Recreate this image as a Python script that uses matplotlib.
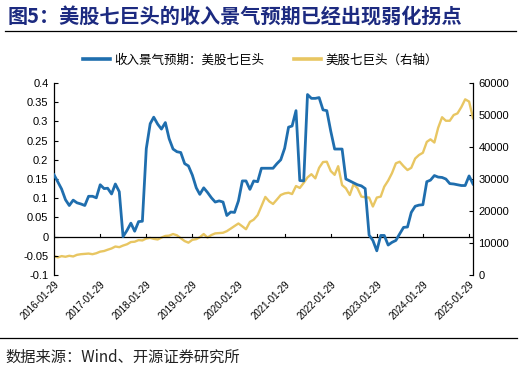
import matplotlib
matplotlib.use("Agg")
import matplotlib.pyplot as plt
import numpy as np
import pandas as pd

plt.rcParams['font.family'] = ['Liberation Sans', 'Noto Sans CJK SC', 'DejaVu Sans']

#------#
# Data #
#------#

# monthly, 2016-01 .. 2025-02
dates = pd.date_range('2016-01-01', periods=110, freq='MS') + pd.Timedelta(days=28)

# 收入景气预期：美股七巨头 (left axis)
revenue_exp = [
    0.161, 0.142, 0.124, 0.096, 0.081, 0.095, 0.088, 0.085, 0.081, 0.105,
    0.105, 0.101, 0.135, 0.125, 0.126, 0.111, 0.137, 0.117, 0.000, 0.016,
    0.035, 0.014, 0.039, 0.040, 0.229, 0.294, 0.311, 0.293, 0.280, 0.297,
    0.255, 0.228, 0.221, 0.219, 0.190, 0.184, 0.160, 0.127, 0.110, 0.127,
    0.115, 0.101, 0.090, 0.093, 0.090, 0.055, 0.064, 0.063, 0.093, 0.145,
    0.145, 0.123, 0.145, 0.143, 0.178, 0.178, 0.178, 0.178, 0.190, 0.200,
    0.230, 0.285, 0.288, 0.328, 0.146, 0.145, 0.370, 0.360, 0.360, 0.362,
    0.330, 0.328, 0.275, 0.228, 0.228, 0.228, 0.150, 0.145, 0.140, 0.135,
    0.132, 0.125, 0.004, -0.010, -0.037, 0.003, 0.003, -0.022, -0.015, -0.010,
    0.007, 0.024, 0.025, 0.063, 0.079, 0.082, 0.083, 0.143, 0.147, 0.159,
    0.155, 0.154, 0.150, 0.138, 0.137, 0.135, 0.133, 0.133, 0.158, 0.137,
]

# 美股七巨头 (right axis)
mag7 = [
    5900, 5500, 5900, 5700, 6000, 5800, 6300, 6500, 6600, 6700,
    6500, 6800, 7300, 7500, 7900, 8300, 8900, 8700, 9200, 9600,
    10300, 10400, 10900, 10800, 11400, 11600, 11300, 11100, 11700, 12200,
    12300, 12800, 12400, 11500, 10600, 10100, 11000, 11200, 11800, 12800,
    11700, 12500, 13000, 13100, 13200, 13700, 14500, 15300, 16100, 15200,
    14300, 16600, 17300, 18700, 21500, 24400, 23000, 22200, 23600, 25000,
    25500, 25700, 25300, 27800, 27200, 28800, 30500, 31500, 30200, 33500,
    35300, 35400, 32500, 31300, 34000, 28100, 27100, 25000, 28400, 27100,
    24500, 24300, 24200, 21400, 24200, 24500, 27600, 29500, 31800, 34900,
    35400, 34000, 32800, 33500, 36400, 37500, 38200, 41600, 42400, 41400,
    46000, 49300, 48200, 48200, 50000, 50500, 52500, 54900, 54200, 49000,
]

left_ticks = [0.4, 0.35, 0.3, 0.25, 0.2, 0.15, 0.1, 0.05, 0, -0.05, -0.1]
left_labels = ['0.4', '0.35', '0.3', '0.25', '0.2', '0.15', '0.1', '0.05', '0', '-0.05', '-0.1']
right_ticks = [0, 10000, 20000, 30000, 40000, 50000, 60000]
x_ticks = pd.to_datetime(['%d-01-29' % y for y in range(2016, 2026)])

blue = '#1f6eae'
yellow = '#e8c662'

#--------#
# Figure #
#--------#

fig = plt.figure(figsize=(5.22, 3.74), dpi=100)
ax = fig.add_axes([54/522, 1-275/374, (473-54)/522, (275-83)/374])
ax2 = ax.twinx()

l1, = ax.plot(dates, revenue_exp, color=blue, lw=2.0, zorder=3)
l2, = ax2.plot(dates, mag7, color=yellow, lw=1.7, zorder=2)
ax.set_zorder(ax2.get_zorder() + 1)
ax.patch.set_visible(False)

ax.set_ylim(-0.1, 0.4)
ax.set_yticks(left_ticks)
ax.set_yticklabels(left_labels)
ax2.set_ylim(0, 60000)
ax2.set_yticks(right_ticks)
ax.set_xlim(dates[0], dates[-1])
ax.set_xticks(x_ticks)
ax.set_xticklabels([d.strftime('%Y-%m-%d') for d in x_ticks], rotation=45,
                   ha='right', rotation_mode='anchor', fontsize=7)

# zero line with small tick marks, like the excel axis
ax.axhline(0, color='black', lw=0.9, zorder=2)
for d in x_ticks:
    ax.plot([d, d], [0, 0.006], color='black', lw=0.8, zorder=2)

for a in (ax, ax2):
    a.spines['top'].set_visible(False)
    a.spines['bottom'].set_visible(False)
ax.spines['right'].set_visible(False)
ax.spines['left'].set_linewidth(0.9)
ax2.spines['right'].set_linewidth(0.9)
ax2.spines['left'].set_visible(False)

ax.tick_params(axis='y', direction='in', length=3, width=0.8, labelsize=8, pad=4)
ax2.tick_params(axis='y', direction='in', length=3, width=0.8, labelsize=8, pad=4)
ax.tick_params(axis='x', length=0, pad=3)

leg = fig.legend([l1, l2], ['收入景气预期：美股七巨头', '美股七巨头（右轴）'],
                 loc='center', bbox_to_anchor=(260/522, 1-60/374), ncol=2,
                 frameon=False, handlelength=2.2, columnspacing=2.4,
                 handletextpad=0.3, prop={'family': ['Noto Sans CJK SC'], 'size': 9})
for h in leg.legend_handles:
    h.set_linewidth(2.6)

# title, rules and source
fig.text(8/522, 1-17/374, '图5：美股七巨头的收入景气预期已经出现弱化拐点',
         fontsize=14.5, fontweight='bold', color='#1c2a80', va='center',
         family=['Noto Sans CJK SC'])
fig.add_artist(plt.Line2D([5/522, 516/522], [1-31/374, 1-31/374], color='black', lw=0.9))
fig.add_artist(plt.Line2D([0, 517/522], [1-338/374, 1-338/374], color='black', lw=0.9))
fig.text(5/522, 1-357/374, '数据来源：Wind、开源证券研究所', fontsize=11,
         va='center', family=['Noto Sans CJK SC'], color='#222222')

fig.savefig('out.png', dpi=100)
